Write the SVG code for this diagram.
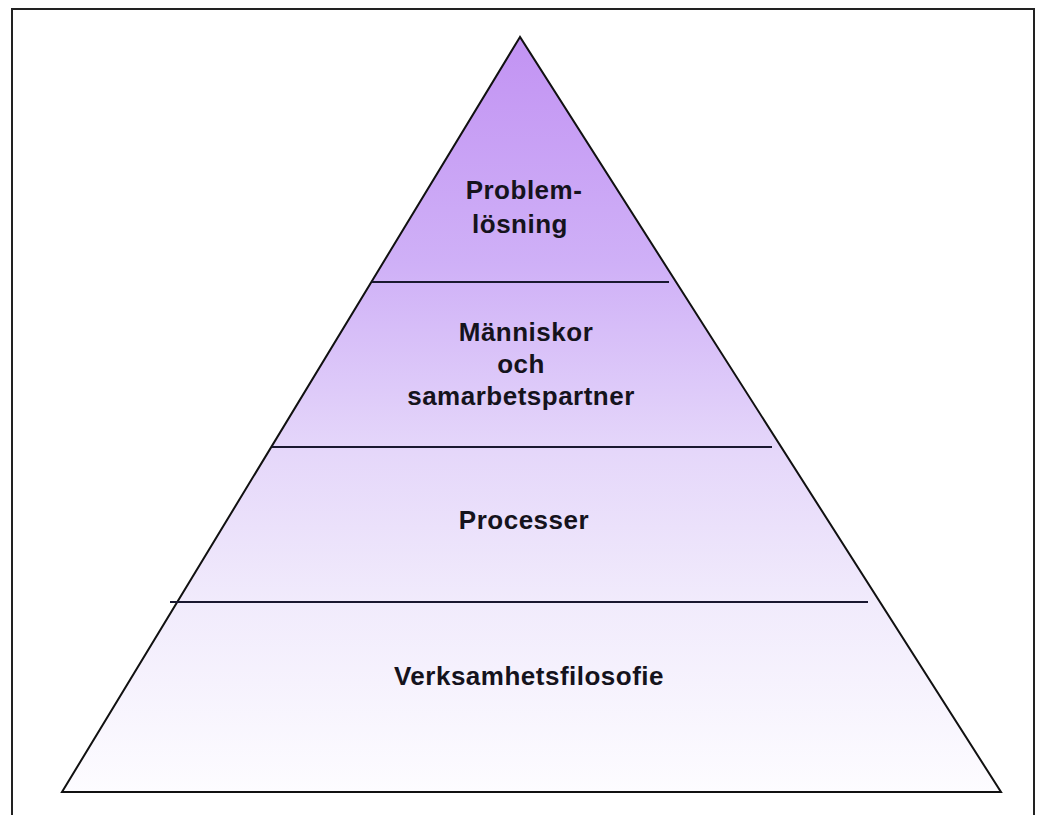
<svg xmlns="http://www.w3.org/2000/svg" width="1039" height="815" viewBox="0 0 1039 815">
<defs>
<linearGradient id="g" x1="0" y1="37" x2="0" y2="792" gradientUnits="userSpaceOnUse">
<stop offset="0" stop-color="#c293f3"/>
<stop offset="0.3" stop-color="#cfb0f7"/>
<stop offset="0.55" stop-color="#e5d7fa"/>
<stop offset="0.75" stop-color="#f1ebfc"/>
<stop offset="1" stop-color="#fdfcff"/>
</linearGradient>
<style>
.t{font-family:"Liberation Sans",Arial,sans-serif;font-weight:bold;font-size:26px;fill:#15131c;text-anchor:middle;letter-spacing:0.5px}
.l{stroke:#1a1830;stroke-width:2;fill:none}
</style>
</defs>
<rect width="1039" height="815" fill="#ffffff"/>
<path d="M12 815 V9 H1034 V815" fill="none" stroke="#222" stroke-width="2"/>
<g id="pyramid">
<polygon points="520,37 62,792 1001,792" fill="url(#g)" stroke="#111" stroke-width="2" stroke-linejoin="miter"/>
</g>
<g id="connectors">
<line class="l" x1="372" y1="282" x2="669" y2="282"/>
<line class="l" x1="272" y1="447" x2="772" y2="447"/>
<line class="l" x1="170" y1="602" x2="868" y2="602"/>
</g>
<g id="node-problemlosning">
<text class="t" x="524" y="199">Problem-</text>
<text class="t" x="520" y="233">lösning</text>
</g>
<g id="node-manniskor">
<text class="t" x="526" y="341">Människor</text>
<text class="t" x="521" y="373">och</text>
<text class="t" x="521" y="405">samarbetspartner</text>
</g>
<g id="node-processer">
<text class="t" x="524" y="529">Processer</text>
</g>
<g id="node-verksamhetsfilosofie">
<text class="t" x="529" y="685">Verksamhetsfilosofie</text>
</g>
</svg>
